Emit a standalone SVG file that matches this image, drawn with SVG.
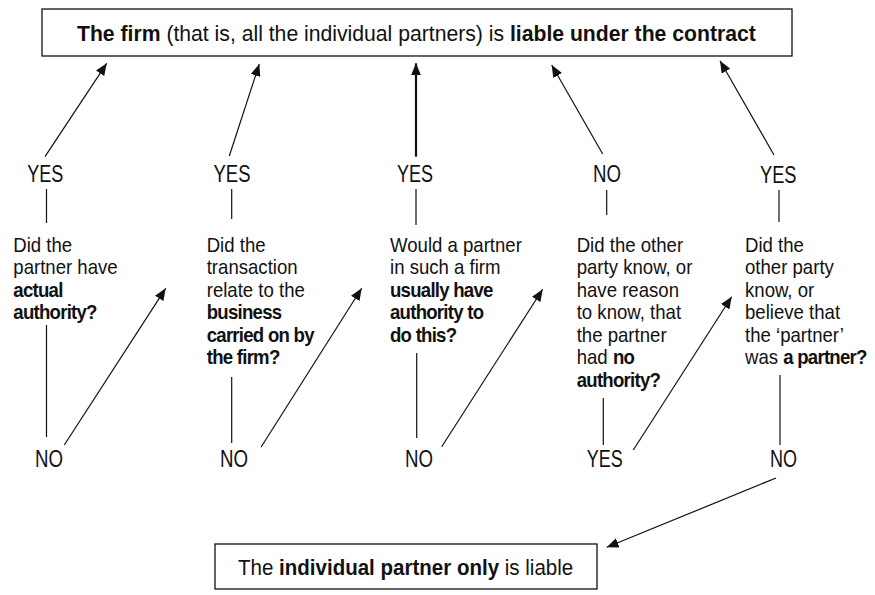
<svg xmlns="http://www.w3.org/2000/svg" width="875" height="595" viewBox="0 0 875 595">
<defs>
<style>
text{font-family:"Liberation Sans",Arial,sans-serif;fill:#111;}
.t{font-size:22px;}
.b{font-size:20px;}
.yn{font-size:23px;}
.bold{font-weight:bold;letter-spacing:-0.8px;}
.box{fill:#fff;stroke:#111;stroke-width:1.3;}
.ln{stroke:#111;stroke-width:1.2;fill:none;}
.ar{stroke:#111;stroke-width:1.2;fill:none;marker-end:url(#ah);}
.arT{stroke:#111;stroke-width:2.2;fill:none;marker-end:url(#ah2);}
</style>
<marker id="ah" viewBox="0 0 12 10" refX="12" refY="5" markerWidth="12" markerHeight="10" markerUnits="userSpaceOnUse" orient="auto">
<path d="M0,0 L12,5 L0,10 z" fill="#111"/>
</marker>
<marker id="ah2" viewBox="0 0 12 10" refX="12" refY="5" markerWidth="12" markerHeight="11" markerUnits="userSpaceOnUse" orient="auto">
<path d="M0,0 L12,5 L0,10 z" fill="#111"/>
</marker>
</defs>
<rect width="875" height="595" fill="#fff"/>

<g id="top">
<rect class="box" x="42" y="9" width="750" height="47"/>
<g transform="translate(77 0) scale(0.963 1)">
<text class="t" x="0" y="41"><tspan font-weight="bold">The firm</tspan> (that is, all the individual partners) is <tspan font-weight="bold">liable under the contract</tspan></text>
</g>
</g>

<g id="bottom">
<rect class="box" x="215" y="544" width="382" height="45"/>
<g transform="translate(238 0) scale(0.933 1)">
<text class="t" x="0" y="575">The <tspan font-weight="bold">individual partner only</tspan> is liable</text>
</g>
</g>

<g id="q1">
<g transform="translate(13.3 0) scale(0.93 1)">
<text class="b" x="0" y="251.7">Did the</text>
<text class="b" x="0" y="274.2">partner have</text>
<text class="b bold" x="0" y="296.7">actual</text>
<text class="b bold" x="0" y="319.2">authority?</text>
</g>
</g>
<g id="q2">
<g transform="translate(206.7 0) scale(0.93 1)">
<text class="b" x="0" y="251.7">Did the</text>
<text class="b" x="0" y="274.2">transaction</text>
<text class="b" x="0" y="296.7">relate to the</text>
<text class="b bold" x="0" y="319.2">business</text>
<text class="b bold" x="0" y="341.7">carried on by</text>
<text class="b bold" x="0" y="364.2">the firm?</text>
</g>
</g>
<g id="q3">
<g transform="translate(390 0) scale(0.93 1)">
<text class="b" x="0" y="251.7">Would a partner</text>
<text class="b" x="0" y="274.2">in such a firm</text>
<text class="b bold" x="0" y="296.7">usually have</text>
<text class="b bold" x="0" y="319.2">authority to</text>
<text class="b bold" x="0" y="341.7">do this?</text>
</g>
</g>
<g id="q4">
<g transform="translate(576.7 0) scale(0.93 1)">
<text class="b" x="0" y="251.7">Did the other</text>
<text class="b" x="0" y="274.2">party know, or</text>
<text class="b" x="0" y="296.7">have reason</text>
<text class="b" x="0" y="319.2">to know, that</text>
<text class="b" x="0" y="341.7">the partner</text>
<text class="b" x="0" y="364.2">had <tspan class="bold">no</tspan></text>
<text class="b bold" x="0" y="386.7">authority?</text>
</g>
</g>
<g id="q5">
<g transform="translate(745 0) scale(0.93 1)">
<text class="b" x="0" y="251.7">Did the</text>
<text class="b" x="0" y="274.2">other party</text>
<text class="b" x="0" y="296.7">know, or</text>
<text class="b" x="0" y="319.2">believe that</text>
<text class="b" x="0" y="341.7">the ‘partner’</text>
<text class="b" x="0" y="364.2">was <tspan class="bold">a partner?</tspan></text>
</g>
</g>

<g id="labels">
<text class="yn" x="27.3" y="182" textLength="36" lengthAdjust="spacingAndGlyphs">YES</text>
<text class="yn" x="213.5" y="182" textLength="37" lengthAdjust="spacingAndGlyphs">YES</text>
<text class="yn" x="397" y="182" textLength="36" lengthAdjust="spacingAndGlyphs">YES</text>
<text class="yn" x="593" y="182" textLength="28" lengthAdjust="spacingAndGlyphs">NO</text>
<text class="yn" x="760" y="182.5" textLength="36.5" lengthAdjust="spacingAndGlyphs">YES</text>
<text class="yn" x="35" y="467" textLength="28" lengthAdjust="spacingAndGlyphs">NO</text>
<text class="yn" x="220" y="467" textLength="28" lengthAdjust="spacingAndGlyphs">NO</text>
<text class="yn" x="405" y="467" textLength="28" lengthAdjust="spacingAndGlyphs">NO</text>
<text class="yn" x="586.7" y="467" textLength="36" lengthAdjust="spacingAndGlyphs">YES</text>
<text class="yn" x="770" y="467" textLength="27" lengthAdjust="spacingAndGlyphs">NO</text>
</g>

<g id="connectors">
<line class="ar" x1="45" y1="156.7" x2="106.7" y2="63.3"/>
<line class="ln" x1="46.5" y1="189" x2="46.5" y2="223"/>
<line class="ln" x1="46.5" y1="325" x2="46.5" y2="437"/>
<line class="ar" x1="64.3" y1="445" x2="165.7" y2="288.3"/>

<line class="ar" x1="229.3" y1="156" x2="259.3" y2="64"/>
<line class="ln" x1="231.7" y1="189" x2="231.7" y2="219"/>
<line class="ln" x1="231.7" y1="377" x2="231.7" y2="443"/>
<line class="ar" x1="261" y1="447.3" x2="361.7" y2="288.3"/>

<line class="arT" x1="416" y1="156.7" x2="416" y2="63.3"/>
<line class="ln" x1="416" y1="189" x2="416" y2="225"/>
<line class="ln" x1="416.7" y1="353" x2="416.7" y2="438"/>
<line class="ar" x1="441.7" y1="446.7" x2="542.7" y2="289.3"/>

<line class="ar" x1="602.7" y1="154" x2="551.7" y2="65"/>
<line class="ln" x1="606.7" y1="190" x2="606.7" y2="215"/>
<line class="ln" x1="603.3" y1="398" x2="603.3" y2="445"/>
<line class="ar" x1="633.3" y1="450" x2="731.7" y2="296.7"/>

<line class="ar" x1="774" y1="155" x2="720" y2="60.7"/>
<line class="ln" x1="779" y1="190" x2="779" y2="222"/>
<line class="ln" x1="780" y1="375" x2="780" y2="445"/>
<line class="ar" x1="776" y1="478" x2="606.7" y2="547.3"/>
</g>
</svg>
